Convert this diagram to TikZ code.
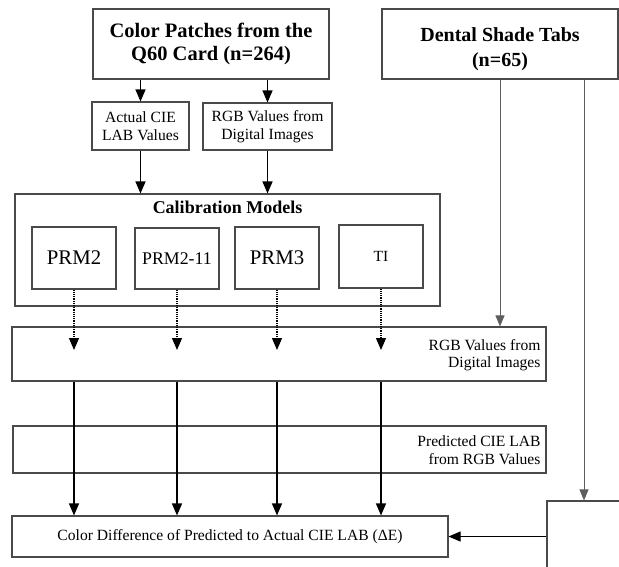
\documentclass[tikz,border=0pt]{standalone}
\usepackage{fontspec}
\setmainfont{Liberation Serif}
\usepackage{tikz}
\usetikzlibrary{arrows.meta,calc}
\definecolor{qline}{HTML}{4A4A4A}
\definecolor{qgrey}{HTML}{5E5E5E}

\begin{document}
\begin{tikzpicture}[
  x=1pt,y=-1pt,
  box/.style={
    draw=qline,
    line width=1.1pt,
    inner sep=0pt,
    align=center
  },
  headtext/.style={font=\fontsize{20.5}{23}\selectfont\bfseries},
  shadetext/.style={font=\fontsize{20}{25}\selectfont\bfseries},
  plaintext/.style={font=\fontsize{15.6}{17.5}\selectfont},
  modeltext/.style={font=\fontsize{20.8}{24}\selectfont},
  edge/.style={-{Triangle[length=12pt,width=10pt]},line width=1.3pt},
  dotedge/.style={edge,line width=1.2pt,densely dotted},
  greyedge/.style={-{Triangle[length=11pt,width=9pt]},line width=0.9pt,draw=qgrey,fill=black}
]
\clip (0,0) rectangle (619,566);

\node[box,headtext,minimum width=236pt,minimum height=70pt] (patches) at (211,44) {Color Patches from the\\Q60 Card (n=264)};
\node[box,minimum width=236pt,minimum height=70pt] (shade) at (500,44) {};
\node[shadetext,align=center] (shadetitle) at (500,49) {Dental Shade Tabs\\(n=65)};

\node[box,plaintext,minimum width=97pt,minimum height=48pt] (actual) at (140.5,126) {Actual CIE\\LAB Values};
\node[box,plaintext,minimum width=129pt,minimum height=47pt] (rgbimg) at (267.5,126.5) {RGB Values from\\Digital Images};

\node[box,minimum width=425pt,minimum height=112pt] (calib) at (227.5,250) {};
\node[font=\fontsize{18}{20}\selectfont\bfseries] (calibtitle) at (227.5,207) {Calibration Models};
\node[box,modeltext,minimum width=84pt,minimum height=62pt] (prmtwo) at (74,258) {PRM2};
\node[box,font=\fontsize{17.8}{20}\selectfont,minimum width=84pt,minimum height=61pt] (prmeleven) at (177,258.5) {PRM2-11};
\node[box,modeltext,minimum width=84pt,minimum height=62pt] (prmthree) at (277,258) {PRM3};
\node[box,font=\fontsize{15.5}{18}\selectfont,minimum width=84pt,minimum height=63pt] (tione) at (381,256.5) {TI};

\node[box,minimum width=534pt,minimum height=54pt] (rgbpred) at (279,354) {};
\node[plaintext,anchor=east,align=right] (rgbpredtext) at (544,355) {RGB Values from\\Digital Images};
\coordinate (tipline) at (0,350);

\node[box,minimum width=533pt,minimum height=47pt] (labpred) at (279.5,449.5) {};
\node[plaintext,anchor=east,align=right] (labpredtext) at (544,450) {Predicted CIE LAB\\from RGB Values};

\node[box,plaintext,minimum width=436pt,minimum height=41pt] (deltae) at (230,536.5) {Color Difference of Predicted to Actual CIE LAB (ΔE)};
\node[box,minimum width=106pt,minimum height=98pt] (shadeout) at (600,550) {};
\coordinate (shaderight) at ($(shade.south)+(84,0)$);

\draw[edge] (patches.south -| actual) -- (actual.north);
\draw[edge] (patches.south -| rgbimg) -- (rgbimg.north);
\draw[edge] (actual.south) -- (actual.south |- calib.north);
\draw[edge] (rgbimg.south) -- (rgbimg.south |- calib.north);

\draw[dotedge] (prmtwo.south) -- (prmtwo.south |- tipline);
\draw[dotedge] (prmeleven.south) -- (prmeleven.south |- tipline);
\draw[dotedge] (prmthree.south) -- (prmthree.south |- tipline);
\draw[dotedge] (tione.south) -- (tione.south |- tipline);

\draw[edge] (prmtwo.south |- rgbpred.south) -- (prmtwo.south |- deltae.north);
\draw[edge] (prmeleven.south |- rgbpred.south) -- (prmeleven.south |- deltae.north);
\draw[edge] (prmthree.south |- rgbpred.south) -- (prmthree.south |- deltae.north);
\draw[edge] (tione.south |- rgbpred.south) -- (tione.south |- deltae.north);

\draw[greyedge] (shade.south) -- (shade.south |- rgbpred.north);
\draw[greyedge] (shaderight) -- (shaderight |- shadeout.north);
\draw[edge,line width=1pt] (shadeout.west |- deltae.east) -- (deltae.east);
\end{tikzpicture}
\end{document}
